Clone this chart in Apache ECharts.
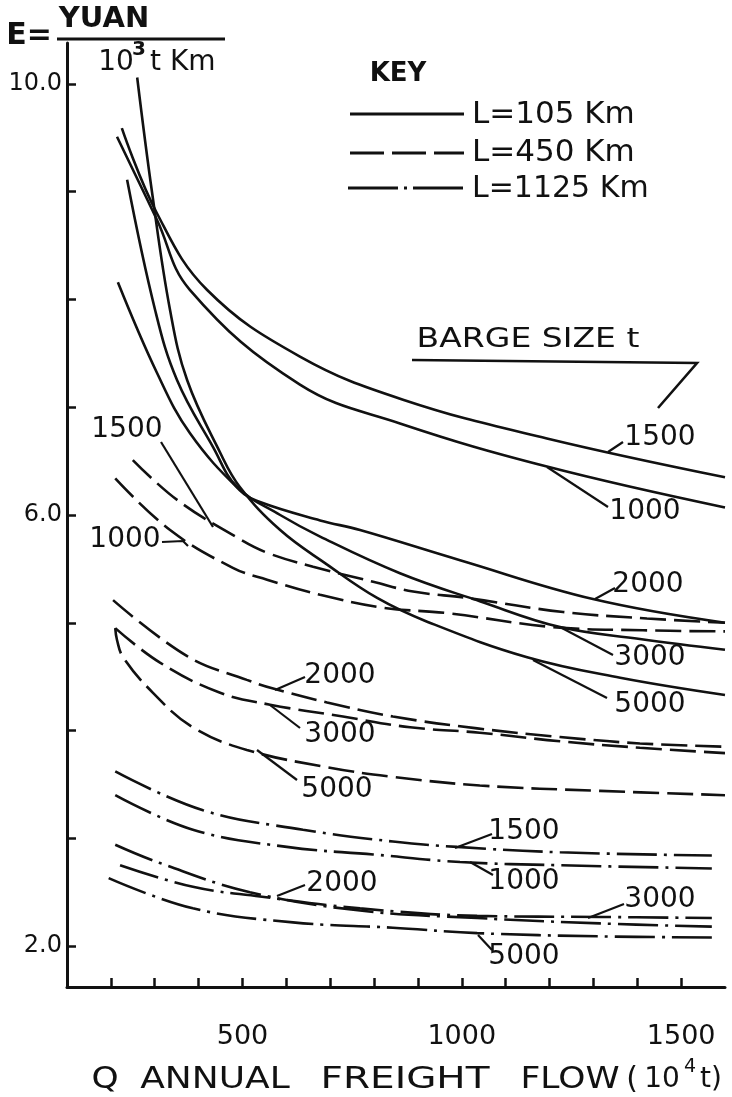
<!DOCTYPE html>
<html>
<head>
<meta charset="utf-8">
<title>Transport cost E vs annual freight flow</title>
<script src="https://cdn.jsdelivr.net/npm/echarts@6/dist/echarts.min.js"></script>
</head>
<body style="margin:0;background:#fff">
<div id="chart" style="width:732px;height:1097px"></div>
<script>
// E (yuan / 10^3 t km) against Q (10^4 t)
// L = 105 km (solid)
var solid1500 = [[225, 9.59], [305, 8.80], [419, 8.09], [631, 7.47], [866, 7.07], [1194, 6.71], [1600, 6.35]];
var solid1000 = [[214, 9.51], [305, 8.74], [380, 8.09], [631, 7.21], [859, 6.85], [1194, 6.45], [1600, 6.07]];
var solid2000 = [[216, 8.16], [305, 7.32], [380, 6.76], [494, 6.23], [540, 6.12], [677, 5.95], [768, 5.86], [996, 5.58], [1299, 5.22], [1600, 5.00]];
var solid3000 = [[237, 9.11], [301, 7.90], [351, 7.25], [433, 6.63], [488, 6.26], [586, 6.00], [677, 5.80], [859, 5.46], [1041, 5.20], [1224, 4.96], [1406, 4.85], [1600, 4.75]];
var solid5000 = [[260, 10.06], [294, 8.99], [335, 7.90], [374, 7.25], [449, 6.58], [494, 6.26], [586, 5.86], [693, 5.54], [807, 5.23], [921, 5.01], [1149, 4.68], [1361, 4.49], [1600, 4.33]];
// L = 450 km (dashed)
var dash1500 = [[250, 6.51], [351, 6.14], [488, 5.79], [556, 5.65], [661, 5.52], [798, 5.38], [889, 5.29], [1012, 5.23], [1231, 5.10], [1422, 5.04], [1600, 5.00]];
var dash1000 = [[210, 6.34], [335, 5.86], [478, 5.51], [556, 5.40], [677, 5.26], [820, 5.14], [966, 5.09], [1208, 4.96], [1413, 4.93], [1600, 4.92]];
var dash2000 = [[205, 5.21], [374, 4.69], [510, 4.47], [570, 4.39], [693, 4.26], [843, 4.13], [1035, 4.02], [1224, 3.94], [1406, 3.88], [1600, 3.85]];
var dash3000 = [[210, 4.95], [312, 4.63], [449, 4.35], [563, 4.24], [729, 4.13], [882, 4.03], [1041, 3.98], [1224, 3.90], [1406, 3.84], [1600, 3.79]];
var dash5000 = [[210, 4.95], [214, 4.84], [228, 4.68], [296, 4.35], [387, 4.03], [510, 3.82], [693, 3.66], [843, 3.57], [1041, 3.49], [1315, 3.44], [1600, 3.40]];
// L = 1125 km (dash-dot)
var dd1500 = [[210, 3.62], [410, 3.26], [638, 3.08], [843, 2.97], [989, 2.92], [1224, 2.87], [1570, 2.84]];
var dd1000 = [[210, 3.40], [387, 3.08], [601, 2.92], [798, 2.85], [996, 2.78], [1224, 2.75], [1570, 2.72]];
var dd2000 = [[210, 2.94], [312, 2.77], [517, 2.50], [768, 2.33], [1035, 2.26], [1315, 2.21], [1570, 2.18]];
var dd3000 = [[221, 2.75], [387, 2.55], [540, 2.46], [768, 2.35], [1035, 2.28], [1315, 2.27], [1570, 2.26]];
var dd5000 = [[195, 2.63], [387, 2.35], [615, 2.22], [843, 2.17], [1035, 2.12], [1315, 2.09], [1570, 2.08]];

var xTicks = [200, 300, 400, 500, 600, 700, 800, 900, 1000, 1100, 1200, 1300, 1400, 1500];
var xLabels = [500, 1000, 1500];
var yTicks = [2, 3, 4, 5, 6, 7, 8, 9, 10];
var yLabels = [2, 6, 10];

var INK = '#111';
var FONT = '"DejaVu Sans", sans-serif';
var SOLID = 'solid';
var DASH = [26, 8];
var DASHDOT = [40, 7, 3, 7];

function curve(name, data, type) {
    return {
        name: name, type: 'line', data: data, symbol: 'none',
        smooth: 0.4, silent: true,
        lineStyle: { color: INK, width: 2.6, type: type }
    };
}
// plain text annotation; weight is '' or 'bold', sx stretches it sideways
function txt(s, x, y, size, weight, align, sx) {
    return {
        type: 'text', x: x, y: y, scaleX: sx || 1,
        style: { text: s, font: (weight || '') + ' ' + (size || 28) + 'px ' + FONT, fill: INK,
                 align: align || 'center', verticalAlign: 'middle' }
    };
}
function seg(points, dash, w) {
    return { type: 'polyline', shape: { points: points }, style: { stroke: INK, lineWidth: w || 2.2, fill: null, lineDash: dash || null } };
}

var chart = echarts.init(document.getElementById('chart'));
var option = {
    animation: false,
    backgroundColor: '#fff',
    grid: { left: 67, right: 7, top: 43, bottom: 110 },
    xAxis: {
        type: 'value', min: 100, max: 1600,
        axisLine: { onZero: false, lineStyle: { color: INK, width: 3 } },
        axisTick: { inside: true, length: 9, customValues: xTicks, lineStyle: { color: INK, width: 2.5 } },
        axisLabel: { customValues: xLabels, color: INK, fontSize: 27, fontFamily: FONT, margin: 36,
            formatter: function (v) { return String(v); } },
        splitLine: { show: false }
    },
    yAxis: {
        type: 'value', min: 1.62, max: 10.38,
        axisLine: { show: true, lineStyle: { color: INK, width: 3 } },
        axisTick: { show: true, inside: true, length: 9, customValues: yTicks, lineStyle: { color: INK, width: 2.5 } },
        axisLabel: { customValues: yLabels, color: INK, fontSize: 24, fontFamily: FONT, margin: 5,
            formatter: function (v) { return v.toFixed(1); } },
        splitLine: { show: false }
    },
    series: [
        curve('L=105 Km 1500', solid1500, SOLID),
        curve('L=105 Km 1000', solid1000, SOLID),
        curve('L=105 Km 2000', solid2000, SOLID),
        curve('L=105 Km 3000', solid3000, SOLID),
        curve('L=105 Km 5000', solid5000, SOLID),
        curve('L=450 Km 1500', dash1500, DASH),
        curve('L=450 Km 1000', dash1000, DASH),
        curve('L=450 Km 2000', dash2000, DASH),
        curve('L=450 Km 3000', dash3000, DASH),
        curve('L=450 Km 5000', dash5000, DASH),
        curve('L=1125 Km 1500', dd1500, DASHDOT),
        curve('L=1125 Km 1000', dd1000, DASHDOT),
        curve('L=1125 Km 2000', dd2000, DASHDOT),
        curve('L=1125 Km 3000', dd3000, DASHDOT),
        curve('L=1125 Km 5000', dd5000, DASHDOT)
    ],
    graphic: [
        // unit of E
        txt('E=', 29, 36, 30, 'bold'),
        txt('YUAN', 104, 19, 29, 'bold'),
        seg([[57, 39], [225, 39]], null, 3),
        txt('10', 116, 63, 28),
        txt('3', 139, 50, 20, 'bold'),
        txt('t Km', 150, 63, 28, '', 'left'),
        // key
        txt('KEY', 398, 74, 26, 'bold'),
        seg([[350, 114], [464, 114]], null, 2.8),
        txt('L=105 Km', 472, 115, 31, '', 'left'),
        seg([[350, 153], [464, 153]], [34, 8], 2.8),
        txt('L=450 Km', 472, 153, 31, '', 'left'),
        seg([[348, 188], [464, 188]], [50, 6, 3, 6], 2.8),
        txt('L=1125 Km', 472, 189, 30, '', 'left'),
        // barge size header
        txt('BARGE SIZE t', 528, 340, 26, '', 'center', 1.27),
        seg([[412, 360], [697, 363], [658, 408]], null, 2.6),
        // L=105 labels
        txt('1500', 660, 438), seg([[608, 452], [623, 442]]),
        txt('1000', 645, 512), seg([[547, 467], [608, 507]]),
        txt('2000', 648, 585), seg([[595, 599], [615, 588]]),
        txt('3000', 650, 658), seg([[560, 627], [613, 655]]),
        txt('5000', 650, 705), seg([[533, 660], [607, 698]]),
        // L=450 labels
        txt('1500', 127, 430), seg([[161, 442], [213, 527]]),
        txt('1000', 125, 540), seg([[162, 542], [183, 541], [188, 546]]),
        txt('2000', 340, 676), seg([[305, 677], [275, 690]]),
        txt('3000', 340, 735), seg([[300, 728], [270, 705]]),
        txt('5000', 337, 790), seg([[297, 780], [257, 750]]),
        // L=1125 labels
        txt('1500', 524, 832), seg([[492, 834], [455, 848]]),
        txt('1000', 524, 882), seg([[493, 875], [470, 862]]),
        txt('2000', 342, 884), seg([[305, 885], [277, 896]]),
        txt('3000', 660, 900), seg([[624, 904], [588, 918]]),
        txt('5000', 524, 957), seg([[492, 950], [478, 935]]),
        // x-axis title, word by word
        txt('Q', 105, 1080, 30, '', 'center', 1.15),
        txt('ANNUAL', 215, 1080, 30, '', 'center', 1.2),
        txt('FREIGHT', 405, 1080, 30, '', 'center', 1.3),
        txt('FLOW', 570, 1080, 30, '', 'center', 1.15),
        txt('(', 632, 1080, 30),
        txt('10', 662, 1080, 28),
        txt('4', 690, 1067, 19),
        txt('t)', 711, 1080, 28)
    ]
};
chart.setOption(option);
</script>
</body>
</html>
